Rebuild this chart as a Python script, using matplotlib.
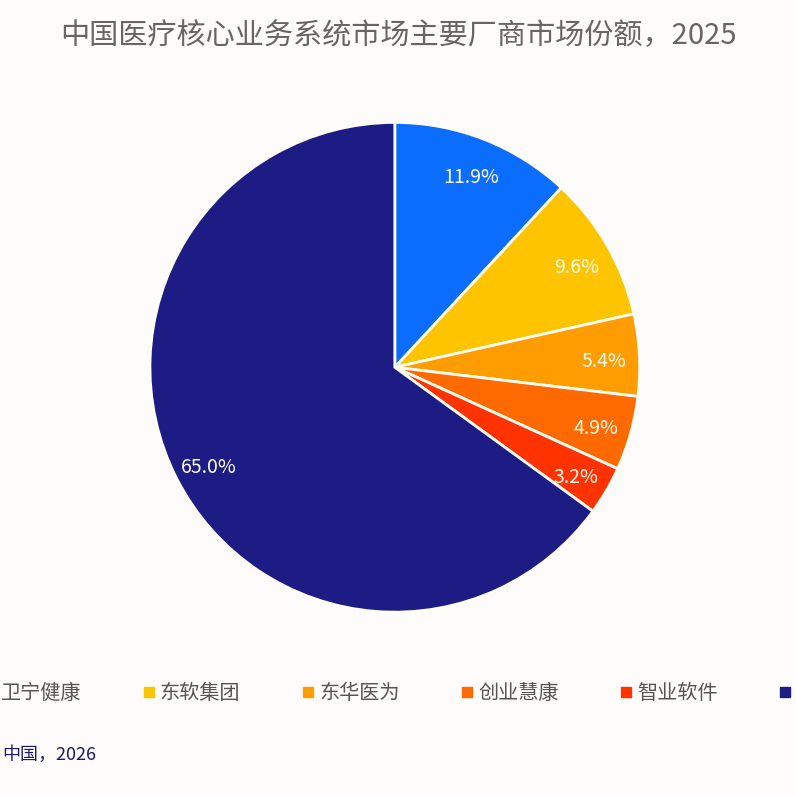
import numpy as np
import matplotlib
matplotlib.use('Agg')
import matplotlib.pyplot as plt
from matplotlib.lines import Line2D
from matplotlib.transforms import offset_copy

plt.rcParams['font.family'] = ['Noto Sans CJK SC', 'DejaVu Sans']

################################################################################
# Data

vendors = ['卫宁健康', '东软集团', '东华医为', '创业慧康', '智业软件', '其他']
shares = [11.9, 9.6, 5.4, 4.9, 3.2, 65.0]
colours = ['#0a6dfd', '#ffc400', '#ff9c00', '#ff6a00', '#ff3300', '#1c1c84']
title = '中国医疗核心业务系统市场主要厂商市场份额，2025'
source = '中国，2026'

################################################################################
# Plot

bg = '#fdfcfa'
fig = plt.figure(figsize=(7.96, 7.95), dpi=100, facecolor=bg)
ax = fig.add_axes([0.188, 0.230, 0.616, 0.616])
ax.set_facecolor(bg)

wedges, texts, autotexts = ax.pie(
	shares, colors=colours, startangle=90, counterclock=False,
	autopct='%.1f%%', pctdistance=0.855,
	wedgeprops=dict(edgecolor='#fffdf5', linewidth=2, clip_on=False),
	textprops=dict(color='#fffbee', fontsize=14))
# nudge percentage labels down a little
for t in autotexts:
	t.set_transform(offset_copy(ax.transData, fig=fig, y=-5, units='dots'))
ax.set_xlim(-1, 1)
ax.set_ylim(-1, 1)
ax.set_aspect('equal')

fig.text(0.5, 0.955, title, ha='center', va='center', fontsize=21, color='#666666')

handles = [Line2D([], [], marker='s', linestyle='none', markersize=7,
	markerfacecolor=c, markeredgecolor=c) for c in colours]
fig.legend(handles, vendors, loc='center left', bbox_to_anchor=(-0.019, 0.128),
	ncol=6, frameon=False, fontsize=14.5, handlelength=0.5, handletextpad=0.3,
	columnspacing=3.1, labelcolor='#555555', borderaxespad=0, borderpad=0)

fig.text(0.003, 0.051, source, ha='left', va='center', fontsize=13, color='#1a1a6e')

plt.savefig('out.png', dpi=100, facecolor=bg)
